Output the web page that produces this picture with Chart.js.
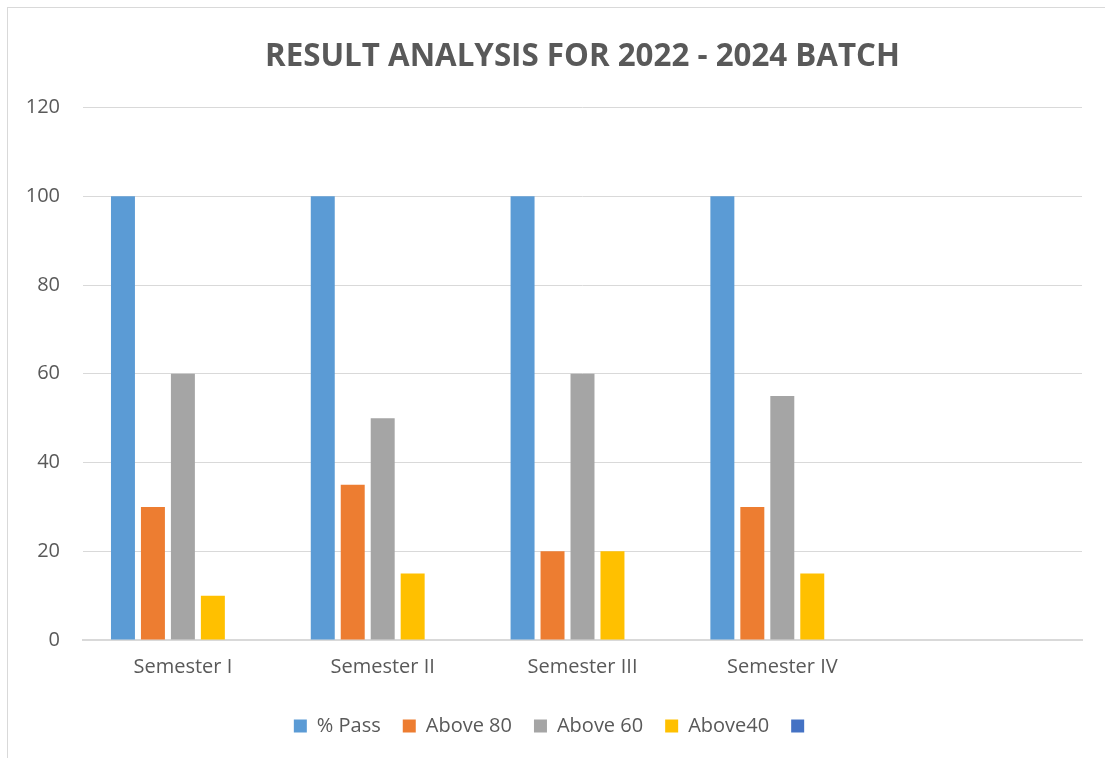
<!DOCTYPE html>
<html>
<head>
<meta charset="utf-8">
<script src="https://cdn.jsdelivr.net/npm/chart.js@4.4.1/dist/chart.umd.min.js"></script>
<style>
  html, body { margin: 0; padding: 0; background: #ffffff; }
  #frame {
    position: absolute;
    left: 7px;
    top: 7px;
    width: 1098px;
    height: 751px;
    border-left: 1px solid #d9d9d9;
    border-top: 1px solid #d9d9d9;
  }
  #resultChart { display: block; }
</style>
</head>
<body>
<div id="frame">
  <canvas id="resultChart" width="1097" height="750"></canvas>
</div>
<script>
// Data
const semesters = ['Semester I', 'Semester II', 'Semester III', 'Semester IV', ''];
const passPercent = [100, 100, 100, 100];
const above80 = [30, 35, 20, 30];
const above60 = [60, 50, 60, 55];
const above40 = [10, 15, 20, 15];
const blankSeries = [];
const yMax = 120,
  yStep = 20;

// Colors (Office palette)
const blueColor = '#5B9BD5',
  orangeColor = '#ED7D31',
  greyColor = '#A5A5A5',
  yellowColor = '#FFC000',
  darkBlueColor = '#4472C4',
  textColor = '#595959',
  gridColor = '#d9d9d9';

const fontFamily = '"Open Sans", "Liberation Sans", sans-serif';

function makeSet(label, data, color) {
  return {
    label: label,
    data: data,
    backgroundColor: color,
    borderColor: 'transparent',
    borderWidth: 0,
    categoryPercentage: 0.75,
    barPercentage: 0.8
  };
}

const resultChart = document.getElementById('resultChart');

new Chart(resultChart, {
  type: 'bar',
  data: {
    labels: semesters,
    datasets: [
      makeSet('% Pass', passPercent, blueColor),
      makeSet('Above 80', above80, orangeColor),
      makeSet('Above 60', above60, greyColor),
      makeSet('Above40', above40, yellowColor),
      makeSet('', blankSeries, darkBlueColor)
    ]
  },
  options: {
    responsive: false,
    animation: false,
    layout: {
      padding: { left: 18, right: 23, top: 0, bottom: 12 }
    },
    plugins: {
      title: {
        display: true,
        fullSize: false,
        text: 'RESULT ANALYSIS FOR 2022 - 2024 BATCH',
        color: textColor,
        font: { family: fontFamily, size: 31.3, weight: 'bold' },
        padding: { top: 30, bottom: 32 }
      },
      legend: {
        position: 'bottom',
        labels: {
          color: textColor,
          font: { family: fontFamily, size: 20 },
          boxWidth: 13,
          boxHeight: 13,
          padding: 22
        }
      },
      tooltip: { enabled: false }
    },
    scales: {
      x: {
        grid: { display: false, drawTicks: false },
        border: { color: gridColor, width: 2 },
        ticks: {
          color: textColor,
          font: { family: fontFamily, size: 20, lineHeight: 0.9 },
          padding: 18
        }
      },
      y: {
        min: 0,
        max: yMax,
        afterFit: function (scale) {
          scale.width = 57;
        },
        grid: { color: gridColor, drawTicks: false },
        border: { display: false },
        ticks: {
          stepSize: yStep,
          color: textColor,
          font: { family: fontFamily, size: 20 },
          padding: 23
        }
      }
    }
  }
});
</script>
</body>
</html>
